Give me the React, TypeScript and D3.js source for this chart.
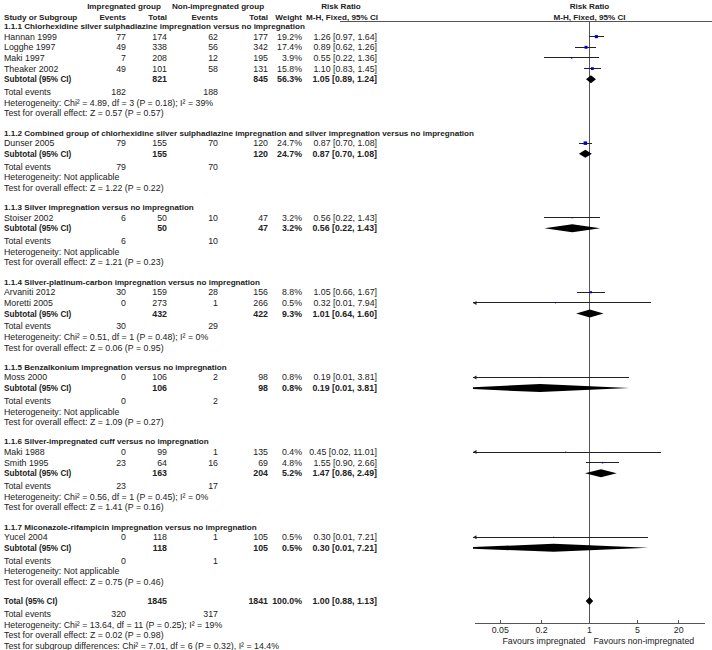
import React from 'react';
import * as d3 from 'd3';

// subgroups
const groupTitles = [
  '1.1.1 Chlorhexidine silver sulphadiazine impregnation versus no impregnation',
  '1.1.2 Combined group of chlorhexidine silver sulphadiazine impregnation and silver impregnation versus no impregnation',
  '1.1.3 Silver impregnation versus no impregnation',
  '1.1.4 Silver-platinum-carbon impregnation versus no impregnation',
  '1.1.5 Benzalkonium impregnation versus no impregnation',
  '1.1.6 Silver-impregnated cuff versus no impregnation',
  '1.1.7 Miconazole-rifampicin impregnation versus no impregnation',
];

// studies
const studyNames = ['Hannan 1999', 'Logghe 1997', 'Maki 1997', 'Theaker 2002', 'Dunser 2005', 'Stoiser 2002',
  'Arvaniti 2012', 'Moretti 2005', 'Moss 2000', 'Maki 1988', 'Smith 1995', 'Yucel 2004'];
const studyGroup = [0, 0, 0, 0, 1, 2, 3, 3, 4, 5, 5, 6];
const eventsImp = [77, 49, 7, 49, 79, 6, 30, 0, 0, 0, 23, 0];
const totalImp = [174, 338, 208, 101, 155, 50, 159, 273, 106, 99, 64, 118];
const eventsNon = [62, 56, 12, 58, 70, 10, 28, 1, 2, 1, 16, 1];
const totalNon = [177, 342, 195, 131, 120, 47, 156, 266, 98, 135, 69, 105];
const weights = [19.2, 17.4, 3.9, 15.8, 24.7, 3.2, 8.8, 0.5, 0.8, 0.4, 4.8, 0.5];
const rr = [1.26, 0.89, 0.55, 1.10, 0.87, 0.56, 1.05, 0.32, 0.19, 0.45, 1.55, 0.30];
const ciLow = [0.97, 0.62, 0.22, 0.83, 0.70, 0.22, 0.66, 0.01, 0.01, 0.02, 0.90, 0.01];
const ciHigh = [1.64, 1.26, 1.36, 1.45, 1.08, 1.43, 1.67, 7.94, 3.81, 11.01, 2.66, 7.21];

// subtotals
const subTotalImp = [821, 155, 50, 432, 106, 163, 118];
const subTotalNon = [845, 120, 47, 422, 98, 204, 105];
const subWeight = [56.3, 24.7, 3.2, 9.3, 0.8, 5.2, 0.5];
const subRR = [1.05, 0.87, 0.56, 1.01, 0.19, 1.47, 0.30];
const subLow = [0.89, 0.70, 0.22, 0.64, 0.01, 0.86, 0.01];
const subHigh = [1.24, 1.08, 1.43, 1.60, 3.81, 2.49, 7.21];
const subEventsImp = [182, 79, 6, 30, 0, 23, 0];
const subEventsNon = [188, 70, 10, 29, 2, 17, 1];
const hetText = [
  'Heterogeneity: Chi\u00b2 = 4.89, df = 3 (P = 0.18); I\u00b2 = 39%',
  'Heterogeneity: Not applicable',
  'Heterogeneity: Not applicable',
  'Heterogeneity: Chi\u00b2 = 0.51, df = 1 (P = 0.48); I\u00b2 = 0%',
  'Heterogeneity: Not applicable',
  'Heterogeneity: Chi\u00b2 = 0.56, df = 1 (P = 0.45); I\u00b2 = 0%',
  'Heterogeneity: Not applicable',
];
const effectText = [
  'Test for overall effect: Z = 0.57 (P = 0.57)',
  'Test for overall effect: Z = 1.22 (P = 0.22)',
  'Test for overall effect: Z = 1.21 (P = 0.23)',
  'Test for overall effect: Z = 0.06 (P = 0.95)',
  'Test for overall effect: Z = 1.09 (P = 0.27)',
  'Test for overall effect: Z = 1.41 (P = 0.16)',
  'Test for overall effect: Z = 0.75 (P = 0.46)',
];

// overall
const overallTotals = [1845, 1841];
const overallEvents = [320, 317];
const overallRR = [1.00, 0.88, 1.13];
const overallNotes = [
  'Heterogeneity: Chi\u00b2 = 13.64, df = 11 (P = 0.25); I\u00b2 = 19%',
  'Test for overall effect: Z = 0.02 (P = 0.98)',
  'Test for subgroup differences: Chi\u00b2 = 7.01, df = 6 (P = 0.32), I\u00b2 = 14.4%',
];

const axisTicks = [0.05, 0.2, 1, 5, 20];

const FONT = 'Liberation Sans, Arial, sans-serif';
const INK = '#222';
const BLUE = '#0000cc';
const col = { name: 4, evI: 126, totI: 167, evN: 218, totN: 268, wt: 302, ci: 377 };
const U = 10.65;
const HEAD = 8.1;

const App = () => {
  const x = d3.scaleLog().domain([0.02, 50]).range([473, 706]);
  const [x0, x1] = x.range();
  const f2 = d3.format('.2f');
  const f1 = d3.format('.1f');
  const ciText = (r: number, l: number, h: number) => `${f2(r)} [${f2(l)}, ${f2(h)}]`;
  const axisY = 623;

  const rows: any[] = [];
  let y = 26;
  groupTitles.forEach((title, g) => {
    rows.push({ kind: 'title', y, text: title });
    studyNames.forEach((_, i) => {
      if (studyGroup[i] !== g) return;
      y += U;
      rows.push({ kind: 'study', y, i });
    });
    y += U;
    rows.push({ kind: 'sub', y, g });
    y += 1.2 * U;
    rows.push({ kind: 'events', y, a: subEventsImp[g], b: subEventsNon[g] });
    y += U;
    rows.push({ kind: 'note', y, text: hetText[g] });
    y += U;
    rows.push({ kind: 'note', y, text: effectText[g] });
    y += 1.8 * U;
  });
  rows.push({ kind: 'total', y });
  y += 1.2 * U;
  rows.push({ kind: 'events', y, a: overallEvents[0], b: overallEvents[1] });
  overallNotes.forEach(t => {
    y += U;
    rows.push({ kind: 'note', y, text: t });
  });

  const txt = (key: string, xx: number, yy: number, s: string | number, anchor = 'end', bold = false, size?: number) => (
    <text key={key} x={xx} y={yy + 3} textAnchor={anchor} fontWeight={bold ? 'bold' : 'normal'}
      fontSize={size}>{s}</text>
  );

  const diamond = (key: string, yy: number, r: number, l: number, h: number) => (
    <path key={key} clipPath="url(#plotClip)" fill="#000"
      d={`M${x(l)},${yy}L${x(r)},${yy - 4}L${x(h)},${yy}L${x(r)},${yy + 4}Z`} />
  );

  const ciLine = (key: string, yy: number, l: number, h: number, r: number, w: number) => {
    const a = Math.max(x(l), x0);
    const b = Math.min(x(h), x1);
    const s = Math.max(1, 3.5 * Math.sqrt(w / 24.7));
    return (
      <g key={key}>
        <line x1={a} x2={b} y1={yy} y2={yy} stroke={INK} strokeWidth={1} shapeRendering="crispEdges" />
        {l <= x.domain()[0] && <path d={`M${x0},${yy}l3.5,-2l0,4Z`} fill={INK} />}
        {h >= x.domain()[1] && <path d={`M${x1},${yy}l-3.5,-2l0,4Z`} fill={INK} />}
        <rect x={x(r) - s / 2} y={yy - s / 2} width={s} height={s} fill={BLUE} />
      </g>
    );
  };

  return (
    <svg width={712} height={650} style={{ position: 'absolute', left: 0, top: 0, background: '#fff' }}
      fontFamily={FONT} fontSize={8.8} fill={INK}>
      <defs>
        <clipPath id="plotClip">
          <rect x={x0} y={0} width={x1 - x0} height={650} />
        </clipPath>
      </defs>

      {/* headers */}
      <g>
        {txt('h1', 124, 6, 'Impregnated group', 'middle', true, HEAD)}
        {txt('h2', 218, 6, 'Non-impregnated group', 'middle', true, HEAD)}
        {txt('h3', 341, 6, 'Risk Ratio', 'middle', true, HEAD)}
        {txt('h4', x(1), 6, 'Risk Ratio', 'middle', true, HEAD)}
        {txt('h5', col.name, 17, 'Study or Subgroup', 'start', true, HEAD)}
        {txt('h6', col.evI, 17, 'Events', 'end', true, HEAD)}
        {txt('h7', col.totI, 17, 'Total', 'end', true, HEAD)}
        {txt('h8', col.evN, 17, 'Events', 'end', true, HEAD)}
        {txt('h9', col.totN, 17, 'Total', 'end', true, HEAD)}
        {txt('h10', col.wt, 17, 'Weight', 'end', true, HEAD)}
        {txt('h11', 342, 17, 'M-H, Fixed, 95% CI', 'middle', true, HEAD)}
        {txt('h12', x(1), 17, 'M-H, Fixed, 95% CI', 'middle', true, HEAD)}
      </g>
      <line x1={340} x2={712} y1={21.5} y2={21.5} stroke="#555" strokeWidth={1} />

      {/* line of no effect */}
      <line x1={x(1)} x2={x(1)} y1={21.5} y2={axisY} stroke="#555" strokeWidth={1} shapeRendering="crispEdges" />

      {rows.map((r, k) => {
        if (r.kind === 'title') return txt('t' + k, col.name, r.y, r.text, 'start', true, 8.1);
        if (r.kind === 'note') return txt('n' + k, col.name, r.y, r.text, 'start');
        if (r.kind === 'events') {
          return (
            <g key={'e' + k}>
              {txt('a', col.name, r.y, 'Total events', 'start')}
              {txt('b', col.evI, r.y, r.a)}
              {txt('c', col.evN, r.y, r.b)}
            </g>
          );
        }
        if (r.kind === 'study') {
          const i = r.i;
          return (
            <g key={'s' + k}>
              {txt('a', col.name, r.y, studyNames[i], 'start')}
              {txt('b', col.evI, r.y, eventsImp[i])}
              {txt('c', col.totI, r.y, totalImp[i])}
              {txt('d', col.evN, r.y, eventsNon[i])}
              {txt('e', col.totN, r.y, totalNon[i])}
              {txt('f', col.wt, r.y, f1(weights[i]) + '%')}
              {txt('g', col.ci, r.y, ciText(rr[i], ciLow[i], ciHigh[i]))}
              {ciLine('l', r.y, ciLow[i], ciHigh[i], rr[i], weights[i])}
            </g>
          );
        }
        if (r.kind === 'sub') {
          const g = r.g;
          return (
            <g key={'u' + k}>
              {txt('a', col.name, r.y, 'Subtotal (95% CI)', 'start', true, 8.2)}
              {txt('c', col.totI, r.y, subTotalImp[g], 'end', true)}
              {txt('e', col.totN, r.y, subTotalNon[g], 'end', true)}
              {txt('f', col.wt, r.y, f1(subWeight[g]) + '%', 'end', true)}
              {txt('g', col.ci, r.y, ciText(subRR[g], subLow[g], subHigh[g]), 'end', true)}
              {diamond('d', r.y, subRR[g], subLow[g], subHigh[g])}
            </g>
          );
        }
        // total
        return (
          <g key={'T' + k}>
            {txt('a', col.name, r.y, 'Total (95% CI)', 'start', true, 8.2)}
            {txt('c', col.totI, r.y, overallTotals[0], 'end', true)}
            {txt('e', col.totN, r.y, overallTotals[1], 'end', true)}
            {txt('f', col.wt, r.y, '100.0%', 'end', true)}
            {txt('g', col.ci, r.y, ciText(overallRR[0], overallRR[1], overallRR[2]), 'end', true)}
            {diamond('d', r.y, overallRR[0], overallRR[1], overallRR[2])}
          </g>
        );
      })}

      {/* axis */}
      <line x1={x0 + 2} x2={x1 - 1} y1={axisY} y2={axisY} stroke="#555" strokeWidth={1} shapeRendering="crispEdges" />
      {axisTicks.map(t => (
        <g key={t}>
          <line x1={x(t)} x2={x(t)} y1={axisY - 3} y2={axisY + 1} stroke="#555" shapeRendering="crispEdges" />
          {txt('l', x(t), axisY + 7, String(t), 'middle')}
        </g>
      ))}
      {txt('fi', x(1) - 4, axisY + 18, 'Favours impregnated', 'end')}
      {txt('fn', x(1) + 4, axisY + 18, 'Favours non-impregnated', 'start')}
    </svg>
  );
};

export default App;
